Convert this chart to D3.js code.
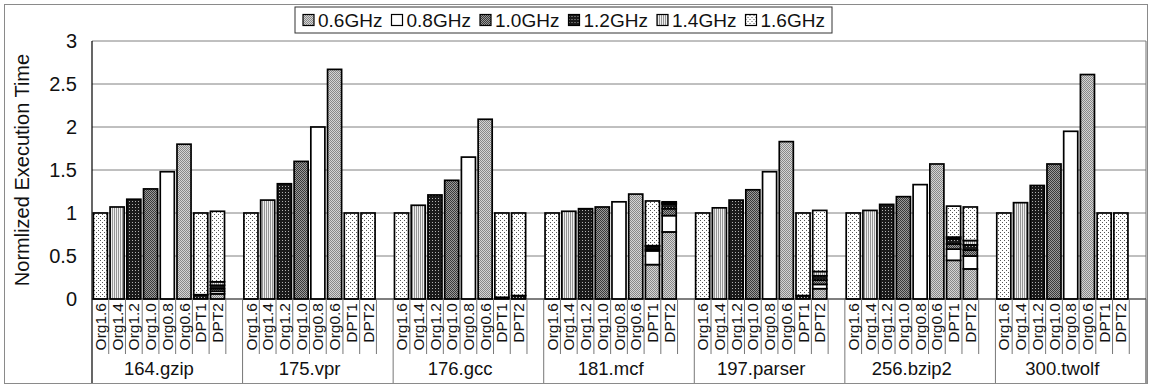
<!DOCTYPE html>
<html>
<head>
<meta charset="utf-8">
<script src="https://cdn.jsdelivr.net/npm/d3@7"></script>
<style>
  body { margin: 0; background: #fff; }
  svg { display: block; font-family: "Liberation Sans", Arial, sans-serif; }
</style>
</head>
<body>
<div id="chart"></div>
<script>
const groups = ["164.gzip", "175.vpr", "176.gcc", "181.mcf", "197.parser", "256.bzip2", "300.twolf"];
const barLabels = ["Org1.6", "Org1.4", "Org1.2", "Org1.0", "Org0.8", "Org0.6", "DPT1", "DPT2"];
const seriesNames = ["0.6GHz", "0.8GHz", "1.0GHz", "1.2GHz", "1.4GHz", "1.6GHz"];
const yTicks = [0, 0.5, 1, 1.5, 2, 2.5, 3];

// one row per benchmark, one value per bar (Org1.6 ... DPT2)
const ghz06 = [
  [0, 0, 0, 0, 0, 1.80, 0, 0.06],
  [0, 0, 0, 0, 0, 2.67, 0, 0],
  [0, 0, 0, 0, 0, 2.09, 0, 0],
  [0, 0, 0, 0, 0, 1.22, 0.40, 0.78],
  [0, 0, 0, 0, 0, 1.83, 0, 0.12],
  [0, 0, 0, 0, 0, 1.57, 0.45, 0.35],
  [0, 0, 0, 0, 0, 2.61, 0, 0]
];
const ghz08 = [
  [0, 0, 0, 0, 1.48, 0, 0, 0.03],
  [0, 0, 0, 0, 2.00, 0, 0, 0],
  [0, 0, 0, 0, 1.65, 0, 0, 0],
  [0, 0, 0, 0, 1.13, 0, 0.16, 0.19],
  [0, 0, 0, 0, 1.48, 0, 0, 0.05],
  [0, 0, 0, 0, 1.33, 0, 0.13, 0.15],
  [0, 0, 0, 0, 1.95, 0, 0, 0]
];
const ghz10 = [
  [0, 0, 0, 1.28, 0, 0, 0, 0.03],
  [0, 0, 0, 1.60, 0, 0, 0, 0],
  [0, 0, 0, 1.38, 0, 0, 0, 0],
  [0, 0, 0, 1.07, 0, 0, 0.02, 0.08],
  [0, 0, 0, 1.27, 0, 0, 0, 0.05],
  [0, 0, 0, 1.19, 0, 0, 0.06, 0.07],
  [0, 0, 0, 1.57, 0, 0, 0, 0]
];
const ghz12 = [
  [0, 0, 1.16, 0, 0, 0, 0.05, 0.04],
  [0, 0, 1.34, 0, 0, 0, 0, 0],
  [0, 0, 1.21, 0, 0, 0, 0.02, 0.04],
  [0, 0, 1.05, 0, 0, 0, 0.03, 0.055],
  [0, 0, 1.15, 0, 0, 0, 0.04, 0.05],
  [0, 0, 1.10, 0, 0, 0, 0.06, 0.06],
  [0, 0, 1.32, 0, 0, 0, 0, 0]
];
const ghz14 = [
  [0, 1.07, 0, 0, 0, 0, 0, 0.04],
  [0, 1.15, 0, 0, 0, 0, 0, 0],
  [0, 1.09, 0, 0, 0, 0, 0, 0],
  [0, 1.02, 0, 0, 0, 0, 0.01, 0.015],
  [0, 1.06, 0, 0, 0, 0, 0, 0.05],
  [0, 1.03, 0, 0, 0, 0, 0.02, 0.05],
  [0, 1.12, 0, 0, 0, 0, 0, 0]
];
const ghz16 = [
  [1.0, 0, 0, 0, 0, 0, 0.95, 0.82],
  [1.0, 0, 0, 0, 0, 0, 1.0, 1.0],
  [1.0, 0, 0, 0, 0, 0, 0.98, 0.96],
  [1.0, 0, 0, 0, 0, 0, 0.52, 0.01],
  [1.0, 0, 0, 0, 0, 0, 0.96, 0.71],
  [1.0, 0, 0, 0, 0, 0, 0.36, 0.39],
  [1.0, 0, 0, 0, 0, 0, 1.0, 1.0]
];
const seriesValues = [ghz06, ghz08, ghz10, ghz12, ghz14, ghz16];

const width = 1149, height = 385;
const margin = { top: 41, right: 3, bottom: 86, left: 92 };
const bottomEdge = 383;

const rows = [];
groups.forEach((g, gi) => {
  barLabels.forEach((b, bi) => {
    const row = { group: g, bar: b };
    seriesNames.forEach((s, si) => { row[s] = seriesValues[si][gi][bi]; });
    rows.push(row);
  });
});

const svg = d3.select("#chart").append("svg")
  .attr("width", width)
  .attr("height", height);

// fill patterns for the six frequencies
const defs = svg.append("defs");
function pattern(id, size, bg, draw) {
  const p = defs.append("pattern")
    .attr("id", id)
    .attr("patternUnits", "userSpaceOnUse")
    .attr("width", size).attr("height", size);
  p.append("rect").attr("width", size).attr("height", size).attr("fill", bg);
  draw(p);
}
pattern("p06", 2, "#d4d4d4", p => {
  p.append("rect").attr("width", 1).attr("height", 1).attr("fill", "#888");
  p.append("rect").attr("x", 1).attr("y", 1).attr("width", 1).attr("height", 1).attr("fill", "#888");
});
pattern("p08", 2, "#ffffff", p => {});
pattern("p10", 2, "#9a9a9a", p => {
  p.append("rect").attr("width", 1).attr("height", 1).attr("fill", "#3a3a3a");
  p.append("rect").attr("x", 1).attr("y", 1).attr("width", 1).attr("height", 1).attr("fill", "#3a3a3a");
});
pattern("p12", 3, "#1a1a1a", p => {
  p.append("rect").attr("width", 1).attr("height", 1).attr("fill", "#b0b0b0");
});
pattern("p14", 2, "#eeeeee", p => {
  p.append("rect").attr("width", 1).attr("height", 2).attr("fill", "#959595");
});
pattern("p16", 4, "#ffffff", p => {
  p.append("rect").attr("width", 1).attr("height", 1).attr("fill", "#555");
  p.append("rect").attr("x", 2).attr("y", 2).attr("width", 1).attr("height", 1).attr("fill", "#555");
});
const color = d3.scaleOrdinal()
  .domain(seriesNames)
  .range(["url(#p06)", "url(#p08)", "url(#p10)", "url(#p12)", "url(#p14)", "url(#p16)"]);

const x0 = d3.scaleBand()
  .domain(groups)
  .range([margin.left, width - margin.right]);

const slots = barLabels.concat(["blank"]);
const x1 = d3.scaleBand()
  .domain(slots)
  .range([0, x0.bandwidth()])
  .paddingInner(0.16)
  .paddingOuter(0.08);

const y = d3.scaleLinear()
  .domain([0, 3])
  .range([height - margin.bottom, margin.top]);

const plotLeft = margin.left, plotRight = width - margin.right;
const plotTop = margin.top, plotBottom = height - margin.bottom;

// outer frame
svg.append("rect")
  .attr("x", 4.5).attr("y", 4.5)
  .attr("width", width - 6).attr("height", bottomEdge - 4)
  .attr("fill", "none")
  .attr("stroke", "#8a8a8a");

// gridlines
svg.append("g")
  .selectAll("line")
  .data(yTicks.filter(d => d > 0))
  .enter().append("line")
  .attr("x1", plotLeft).attr("x2", plotRight)
  .attr("y1", d => y(d)).attr("y2", d => y(d))
  .attr("stroke", "#808080")
  .attr("stroke-width", 1);

svg.append("line")
  .attr("x1", plotRight).attr("x2", plotRight)
  .attr("y1", plotTop).attr("y2", bottomEdge)
  .attr("stroke", "#707070");

// y axis labels
const yAxis = svg.append("g")
  .attr("transform", "translate(" + plotLeft + ",0)")
  .call(d3.axisLeft(y).tickValues(yTicks).tickSize(0).tickPadding(15).tickFormat(d => String(d)));
yAxis.select(".domain").remove();
yAxis.selectAll("text")
  .attr("font-size", 20)
  .attr("font-family", "Liberation Sans, Arial, sans-serif")
  .attr("fill", "#111");

svg.append("text")
  .attr("transform", "translate(22," + ((plotTop + plotBottom) / 2) + ") rotate(-90)")
  .attr("text-anchor", "middle")
  .attr("dy", "0.35em")
  .attr("font-size", 20)
  .attr("fill", "#111")
  .text("Normlized Execution Time");

// stacked bars
const stacked = d3.stack().keys(seriesNames)(rows);
const step = x1.step();

svg.append("g")
  .selectAll("g")
  .data(stacked)
  .enter().append("g")
  .attr("fill", d => color(d.key))
  .selectAll("rect")
  .data(d => d.filter(s => s[1] - s[0] > 0))
  .enter().append("rect")
  .attr("x", d => x0(d.data.group) + x1(d.data.bar))
  .attr("y", d => y(d[1]))
  .attr("width", x1.bandwidth())
  .attr("height", d => y(d[0]) - y(d[1]))
  .attr("stroke", "#000")
  .attr("stroke-width", 1.7);

// axis lines
svg.append("line")
  .attr("x1", plotLeft).attr("x2", plotRight)
  .attr("y1", plotBottom).attr("y2", plotBottom)
  .attr("stroke", "#000").attr("stroke-width", 1.2);
svg.append("line")
  .attr("x1", plotLeft).attr("x2", plotLeft)
  .attr("y1", plotTop).attr("y2", bottomEdge)
  .attr("stroke", "#000").attr("stroke-width", 1.2);

// category axis: slot ticks, bar labels, group labels
const cat = svg.append("g");
groups.forEach(g => {
  const gx = x0(g);
  d3.range(1, barLabels.length + 1).forEach(k => {
    cat.append("line")
      .attr("x1", gx + k * step).attr("x2", gx + k * step)
      .attr("y1", plotBottom).attr("y2", 354)
      .attr("stroke", "#777");
  });
  cat.append("line")
    .attr("x1", gx + x0.step()).attr("x2", gx + x0.step())
    .attr("y1", plotBottom).attr("y2", bottomEdge)
    .attr("stroke", "#777");
  barLabels.forEach(b => {
    cat.append("text")
      .attr("transform", "translate(" + (gx + x1(b) + x1.bandwidth() / 2) + "," + (plotBottom + 4) + ") rotate(-90)")
      .attr("text-anchor", "end")
      .attr("dy", "0.36em")
      .attr("font-size", 15.5)
      .attr("fill", "#111")
      .text(b);
  });
  cat.append("text")
    .attr("x", gx + 4 * step)
    .attr("y", 369)
    .attr("dy", "0.35em")
    .attr("text-anchor", "middle")
    .attr("font-size", 18.5)
    .attr("fill", "#111")
    .text(g);
});

// legend
const legend = svg.append("g").attr("transform", "translate(295,7)");
legend.append("rect")
  .attr("width", 537).attr("height", 26)
  .attr("fill", "#fff")
  .attr("stroke", "#333");
const item = legend.selectAll("g.item")
  .data(seriesNames)
  .enter().append("g")
  .attr("class", "item")
  .attr("transform", (d, i) => "translate(" + (8 + i * 88.5) + ",0)");
item.append("rect")
  .attr("y", 7.5)
  .attr("width", 11).attr("height", 11)
  .attr("fill", d => color(d))
  .attr("stroke", "#000")
  .attr("stroke-width", 1.2);
item.append("text")
  .attr("x", 15)
  .attr("y", 13)
  .attr("dy", "0.35em")
  .attr("font-size", 19)
  .attr("fill", "#111")
  .text(d => d);
</script>
</body>
</html>
